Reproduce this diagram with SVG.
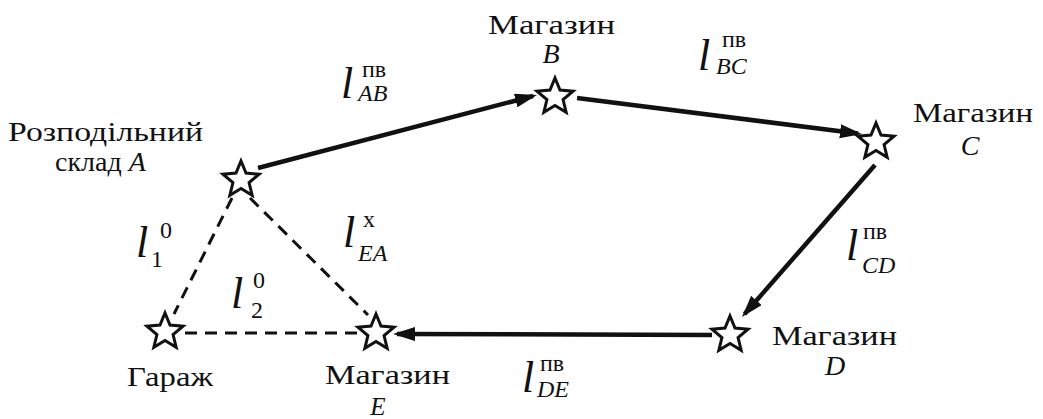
<svg xmlns="http://www.w3.org/2000/svg" width="1043" height="419" viewBox="0 0 1043 419">
<style>
text{fill:#111;font-family:'Liberation Serif','DejaVu Serif','Times New Roman',Times,serif}
.lbl{font-size:28px}
.it{font-style:italic}
.ml{font-size:44px;font-style:italic}
.ms{font-size:24px}
.solid{stroke:#111;stroke-width:4.5;fill:none}
.dash{stroke:#111;stroke-width:3;fill:none;stroke-dasharray:12 8}
.star{fill:#fff;stroke:#111;stroke-width:3;stroke-linejoin:miter}
</style>
<defs>
<path id="star" class="star" d="M0,-19 L5,-6.88 L18.07,-5.87 L8.08,2.63 L11.17,15.37 L0,8.5 L-11.17,15.37 L-8.08,2.63 L-18.07,-5.87 L-5,-6.88 Z"/>
<marker id="arr" markerUnits="userSpaceOnUse" markerWidth="24" markerHeight="16" refX="18" refY="7" orient="auto">
<path d="M0,0 L22,7 L0,14 Z" fill="#111"/>
</marker>
</defs>
<rect width="1043" height="419" fill="#fff"/>
<g id="connectors">
<line class="solid" x1="258" y1="168" x2="533.1" y2="96" marker-end="url(#arr)"/>
<line class="solid" x1="577" y1="98" x2="858" y2="133.5" marker-end="url(#arr)"/>
<line class="solid" x1="875" y1="165" x2="744.6" y2="314" marker-end="url(#arr)"/>
<line class="solid" x1="712" y1="335" x2="397" y2="334" marker-end="url(#arr)"/>
<line class="dash" x1="232" y1="198" x2="174" y2="314"/>
<line class="dash" x1="250" y1="198" x2="368" y2="315"/>
<line class="dash" x1="185" y1="333" x2="358" y2="333"/>
</g>
<g id="edge-labels">
<g id="lab-AB"><text class="ml" x="341" y="98">l</text><text class="ms" x="362" y="77">пв</text><text class="ms it" x="358" y="101">AB</text></g>
<g id="lab-BC"><text class="ml" x="698" y="70">l</text><text class="ms" x="722" y="47">пв</text><text class="ms it" x="716" y="74">BC</text></g>
<g id="lab-CD"><text class="ml" x="846" y="260">l</text><text class="ms" x="863" y="239">пв</text><text class="ms it" x="862" y="273">CD</text></g>
<g id="lab-DE"><text class="ml" x="522" y="392">l</text><text class="ms" x="540" y="371">пв</text><text class="ms it" x="537" y="397">DE</text></g>
<g id="lab-EA"><text class="ml" x="343" y="247">l</text><text class="ms" x="363" y="227">х</text><text class="ms it" x="358" y="261">EA</text></g>
<g id="lab-1"><text class="ml" x="136" y="257">l</text><text class="ms" x="160" y="238">0</text><text class="ms" x="151" y="267">1</text></g>
<g id="lab-2"><text class="ml" x="231" y="308">l</text><text class="ms" x="253" y="288">0</text><text class="ms" x="251" y="318">2</text></g>
</g>
<g id="node-A">
<use href="#star" x="241" y="180"/>
<text class="lbl" x="8" y="141" textLength="195" lengthAdjust="spacingAndGlyphs">Розподільний</text>
<text class="lbl" x="55" y="171">склад <tspan class="it">A</tspan></text>
</g>
<g id="node-B">
<use href="#star" x="555" y="97"/>
<text class="lbl" x="488" y="34" textLength="127" lengthAdjust="spacingAndGlyphs">Магазин</text>
<text class="lbl it" x="551" y="63" text-anchor="middle">B</text>
</g>
<g id="node-C">
<use href="#star" x="876" y="142"/>
<text class="lbl" x="913" y="122" textLength="120" lengthAdjust="spacingAndGlyphs">Магазин</text>
<text class="lbl it" x="970" y="155" text-anchor="middle">C</text>
</g>
<g id="node-D">
<use href="#star" x="730" y="335"/>
<text class="lbl" x="772" y="345" textLength="125" lengthAdjust="spacingAndGlyphs">Магазин</text>
<text class="lbl it" x="835" y="375" text-anchor="middle">D</text>
</g>
<g id="node-E">
<use href="#star" x="376" y="333"/>
<text class="lbl" x="325" y="384" textLength="125" lengthAdjust="spacingAndGlyphs">Магазин</text>
<text class="lbl it" x="378" y="415" text-anchor="middle" style="font-size:25px">E</text>
</g>
<g id="node-G">
<use href="#star" x="165" y="332"/>
<text class="lbl" x="127" y="386" textLength="86" lengthAdjust="spacingAndGlyphs">Гараж</text>
</g>
</svg>
